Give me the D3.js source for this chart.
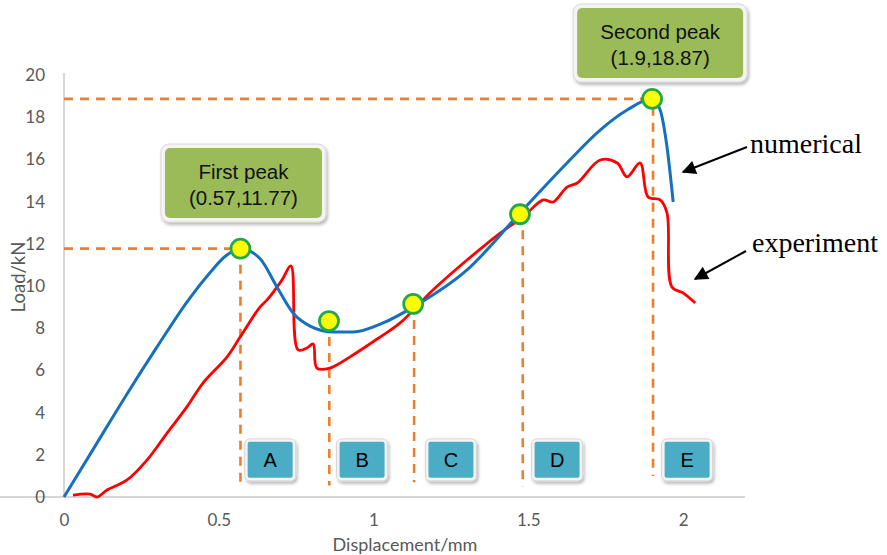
<!DOCTYPE html>
<html>
<head>
<meta charset="utf-8">
<script src="https://cdn.jsdelivr.net/npm/d3@7"></script>
<style>
  html, body { margin: 0; padding: 0; background: #fff; }
  svg { display: block; }
</style>
</head>
<body>
<svg id="chart" width="887" height="555"></svg>
<script>
// Load–displacement curves (displacement in mm, load in kN)
const numericalDisp = [0, 0.1, 0.2, 0.3, 0.4, 0.47, 0.52, 0.57, 0.633, 0.688, 0.740, 0.795, 0.869, 0.934, 1.031, 1.128, 1.302, 1.473, 1.625, 1.732, 1.819, 1.9, 1.926, 1.948, 1.968];
const numericalLoad = [0, 2.4, 4.8, 7.1, 9.3, 10.6, 11.4, 11.77, 11.30, 9.95, 8.72, 8.10, 7.82, 7.82, 8.25, 9.0, 10.76, 13.46, 15.83, 17.39, 18.34, 18.87, 18.34, 16.59, 13.98];

const experimentDisp = [0.029, 0.084, 0.107, 0.139, 0.204, 0.268, 0.333, 0.397, 0.449, 0.527, 0.569, 0.633, 0.656, 0.704, 0.733, 0.756, 0.785, 0.805, 0.817, 0.859, 0.924, 1.021, 1.086, 1.192, 1.302, 1.409, 1.483, 1.548, 1.580, 1.625, 1.658, 1.732, 1.787, 1.819, 1.861, 1.887, 1.926, 1.948, 1.964, 2.0, 2.039];
const experimentLoad = [0.09, 0.14, 0.0, 0.33, 0.81, 1.75, 3.03, 4.27, 5.40, 6.64, 7.58, 9.0, 9.34, 10.28, 10.95, 6.97, 7.06, 7.25, 6.11, 6.11, 6.64, 7.58, 8.25, 9.81, 11.23, 12.51, 13.27, 14.08, 13.98, 14.69, 14.88, 15.97, 15.83, 15.17, 15.83, 14.22, 14.08, 13.46, 9.95, 9.67, 9.19];

// Characteristic points on the numerical curve
const keyDisp = [0.57, 0.856, 1.128, 1.473, 1.9];
const keyLoad = [11.77, 8.34, 9.15, 13.40, 18.87];

// Stage boundaries (vertical guides) and stage labels
const stageNames = ["A", "B", "C", "D", "E"];
const stageLineX = [0.57, 0.857, 1.131, 1.482, 1.903];
const stageLineTop = [11.77, 8.34, 9.15, 13.40, 18.5];
const stageLineBottom = [0.55, 0.55, 0.7, 0.5, 1.0];
const stageLabelX = [0.666, 0.963, 1.25, 1.593, 2.013];
const stageLabelLoad = 1.76;

// Peak callouts
const peakTitles = ["First peak", "Second peak"];
const peakDisp = [0.57, 1.9];
const peakLoad = [11.77, 18.87];

const xTicks = [0, 0.5, 1, 1.5, 2];
const yTicks = [0, 2, 4, 6, 8, 10, 12, 14, 16, 18, 20];

const svg = d3.select("#chart");
const x = d3.scaleLinear().domain([0, 2.2]).range([64, 745]);
const y = d3.scaleLinear().domain([0, 20]).range([497, 75]);

const defs = svg.append("defs");
const shadow = defs.append("filter").attr("id", "shadow")
  .attr("x", "-20%").attr("y", "-20%").attr("width", "140%").attr("height", "150%");
shadow.append("feDropShadow").attr("dx", 1.5).attr("dy", 2.5).attr("stdDeviation", 1.6)
  .attr("flood-color", "#000").attr("flood-opacity", 0.28);
defs.append("marker").attr("id", "arrowhead")
  .attr("viewBox", "0 0 10 10").attr("refX", 9).attr("refY", 5)
  .attr("markerWidth", 18).attr("markerHeight", 14).attr("markerUnits", "userSpaceOnUse")
  .attr("orient", "auto")
  .append("path").attr("d", "M0,0 L10,5 L0,10 Z").attr("fill", "#000");

const axisFont = "Lato, 'Open Sans', sans-serif";

// Axes
const xAxis = svg.append("g").attr("transform", `translate(0,${y(0)})`)
  .call(d3.axisBottom(x).tickValues(xTicks).tickSize(0).tickPadding(17).tickFormat(d3.format("")));
const yAxis = svg.append("g").attr("transform", `translate(${x(0)},0)`)
  .call(d3.axisLeft(y).tickValues(yTicks).tickSize(0).tickPadding(19));
[xAxis, yAxis].forEach(g => {
  g.select(".domain").attr("stroke", "#c8c8c8").attr("stroke-width", 1.5);
  g.selectAll("text").attr("fill", "#595959").attr("font-family", axisFont).attr("font-size", 17);
});
yAxis.select(".domain").attr("d", `M0,${y(0)}V${y(0) - 424}`);
xAxis.select(".domain").attr("d", `M0,0H${745}`);

svg.append("text").attr("x", 405).attr("y", 551).attr("text-anchor", "middle")
  .attr("fill", "#595959").attr("font-family", axisFont).attr("font-size", 18)
  .text("Displacement/mm");
svg.append("text").attr("transform", "translate(25,277) rotate(-90)").attr("text-anchor", "middle")
  .attr("fill", "#595959").attr("font-family", axisFont).attr("font-size", 18.5)
  .text("Load/kN");

// Orange dashed guides
const guide = svg.append("g").attr("stroke", "#ED7D31").attr("stroke-width", 2.6)
  .attr("stroke-dasharray", "9,7").attr("fill", "none");
peakDisp.forEach((d, i) => {
  guide.append("line").attr("x1", x(0)).attr("x2", x(d)).attr("y1", y(peakLoad[i])).attr("y2", y(peakLoad[i]));
});
stageLineX.forEach((d, i) => {
  guide.append("line").attr("x1", x(d)).attr("x2", x(d))
    .attr("y1", y(stageLineTop[i])).attr("y2", y(stageLineBottom[i]));
});

// Curves
const lineExp = d3.line().x(d => x(d[0])).y(d => y(d[1])).curve(d3.curveCatmullRom.alpha(0.5));
const lineNum = d3.line().x(d => x(d[0])).y(d => y(d[1])).curve(d3.curveMonotoneX);
svg.append("path").datum(d3.zip(experimentDisp, experimentLoad))
  .attr("d", lineExp).attr("fill", "none").attr("stroke", "#FF0000").attr("stroke-width", 2.8)
  .attr("stroke-linejoin", "round");
svg.append("path").datum(d3.zip(numericalDisp, numericalLoad))
  .attr("d", lineNum).attr("fill", "none").attr("stroke", "#1570BE").attr("stroke-width", 3)
  .attr("stroke-linejoin", "round");

// Key points
svg.append("g").selectAll("circle").data(d3.zip(keyDisp, keyLoad)).join("circle")
  .attr("cx", d => x(d[0])).attr("cy", d => y(d[1])).attr("r", 9.5)
  .attr("fill", "#FFFF00").attr("stroke", "#22A84A").attr("stroke-width", 2.8);

// Stage labels
const stageW = 45, stageH = 36;
const stages = svg.append("g").selectAll("g").data(stageNames).join("g")
  .attr("transform", (d, i) => `translate(${x(stageLabelX[i])},${y(stageLabelLoad)})`);
stages.append("rect").attr("x", -stageW / 2 - 3).attr("y", -stageH / 2 - 3)
  .attr("width", stageW + 6).attr("height", stageH + 6).attr("rx", 5)
  .attr("fill", "#f4f4f4").attr("stroke", "#d6d6d6").attr("stroke-width", 1)
  .attr("filter", "url(#shadow)");
stages.append("rect").attr("x", -stageW / 2).attr("y", -stageH / 2)
  .attr("width", stageW).attr("height", stageH).attr("rx", 2)
  .attr("fill", "#4BACC6");
stages.append("text").attr("text-anchor", "middle").attr("dy", "0.36em")
  .attr("font-family", "Arial, 'Liberation Sans', sans-serif").attr("font-size", 20)
  .attr("fill", "#000").text(d => d);

// Peak callouts
const calloutW = [157, 166], calloutH = 70;
const calloutCx = [x(peakDisp[0]) + 3, x(peakDisp[1]) + 8];
const calloutCy = [183, 43];
const fmt = (d, v) => `(${d},${v})`;
peakTitles.forEach((t, i) => {
  const g = svg.append("g").attr("transform", `translate(${calloutCx[i]},${calloutCy[i]})`);
  g.append("rect").attr("x", -calloutW[i] / 2 - 4).attr("y", -calloutH / 2 - 4)
    .attr("width", calloutW[i] + 8).attr("height", calloutH + 8).attr("rx", 8)
    .attr("fill", "#f4f4f4").attr("stroke", "#d6d6d6").attr("stroke-width", 1)
    .attr("filter", "url(#shadow)");
  g.append("rect").attr("x", -calloutW[i] / 2).attr("y", -calloutH / 2)
    .attr("width", calloutW[i]).attr("height", calloutH).attr("rx", 5)
    .attr("fill", "#9BBB59");
  const tx = g.append("text").attr("text-anchor", "middle")
    .attr("font-family", "Arial, 'Liberation Sans', sans-serif").attr("font-size", 20.5).attr("fill", "#111");
  tx.append("tspan").attr("x", 0).attr("y", -4).text(t);
  tx.append("tspan").attr("x", 0).attr("y", 22).text(fmt(peakDisp[i], peakLoad[i]));
});

// Series annotations with arrows
const notes = [
  { text: "numerical", tx: 750, ty: 153, from: [747, 147], to: [683, 172] },
  { text: "experiment", tx: 752, ty: 252, from: [746, 251], to: [695, 279] }
];
notes.forEach(n => {
  svg.append("line").attr("x1", n.from[0]).attr("y1", n.from[1]).attr("x2", n.to[0]).attr("y2", n.to[1])
    .attr("stroke", "#000").attr("stroke-width", 2).attr("marker-end", "url(#arrowhead)");
  svg.append("text").attr("x", n.tx).attr("y", n.ty)
    .attr("font-family", "'Liberation Serif', 'Times New Roman', serif").attr("font-size", 28)
    .attr("fill", "#000").text(n.text);
});
</script>
</body>
</html>
